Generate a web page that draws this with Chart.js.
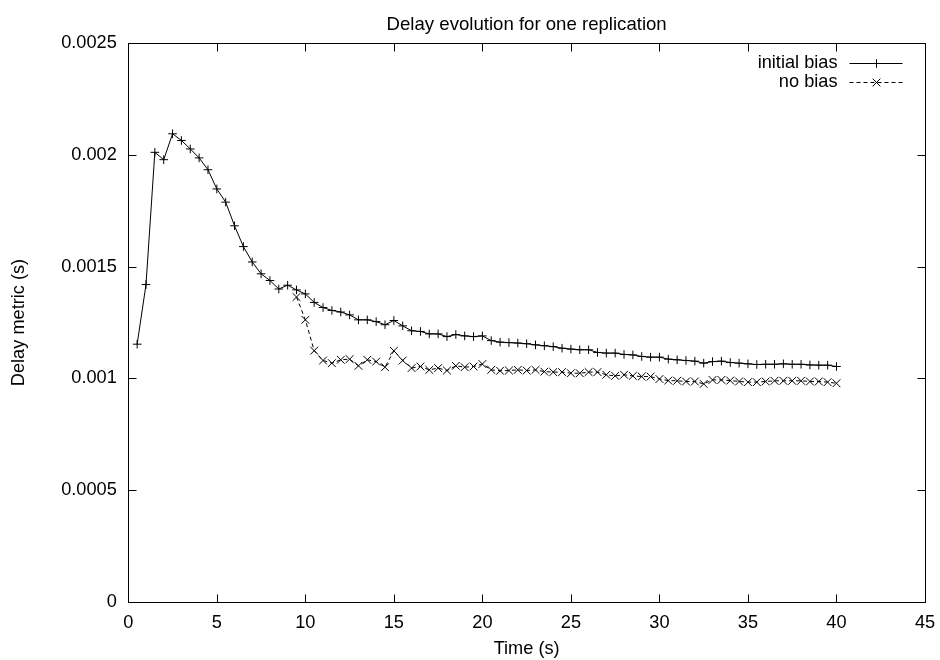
<!DOCTYPE html>
<html>

<head>
    <title>Delay evolution</title>
    <meta charset="UTF-8">
    <script src="https://cdn.jsdelivr.net/npm/chart.js@4.4.1/dist/chart.umd.min.js"></script>
    <style>
        body { margin: 0; background: #fff; }
        #wrap { width: 940px; height: 660px; }
    </style>
</head>

<body>
    <div id="wrap"><canvas id="delayChart" width="940" height="660"></canvas></div>
    <script>
        // time of each sample (s)
        const times = [
            0.5, 1, 1.5, 2, 2.5, 3, 3.5, 4, 4.5, 5, 5.5, 6, 6.5, 7, 7.5, 8, 8.5, 9, 9.5, 10,
            10.5, 11, 11.5, 12, 12.5, 13, 13.5, 14, 14.5, 15, 15.5, 16, 16.5, 17, 17.5, 18, 18.5, 19, 19.5, 20,
            20.5, 21, 21.5, 22, 22.5, 23, 23.5, 24, 24.5, 25, 25.5, 26, 26.5, 27, 27.5, 28, 28.5, 29, 29.5, 30,
            30.5, 31, 31.5, 32, 32.5, 33, 33.5, 34, 34.5, 35, 35.5, 36, 36.5, 37, 37.5, 38, 38.5, 39, 39.5, 40
        ];
        const initialBias = [
            0.001153, 0.00142, 0.002012, 0.001979, 0.002095, 0.002065, 0.002027, 0.001987, 0.001934, 0.001848,
            0.001789, 0.001683, 0.00159, 0.001521, 0.001468, 0.001438, 0.0014, 0.001417, 0.001396, 0.001378,
            0.00134, 0.001317, 0.001304, 0.001297, 0.001284, 0.001262, 0.001262, 0.001254, 0.00124, 0.001259,
            0.001235, 0.001213, 0.00121, 0.001199, 0.001199, 0.001187, 0.001196, 0.00119, 0.001187, 0.00119,
            0.001169, 0.001162, 0.00116, 0.001158, 0.001155, 0.00115, 0.001146, 0.001142, 0.001135, 0.001131,
            0.001128, 0.001128, 0.001116, 0.001113, 0.001113, 0.001107, 0.001105, 0.001098, 0.001095, 0.001095,
            0.001086, 0.001083, 0.00108, 0.001077, 0.001068, 0.001075, 0.001077, 0.001071, 0.001068, 0.001065,
            0.001062, 0.001063, 0.001063, 0.001065, 0.001063, 0.001063, 0.00106, 0.001059, 0.001059, 0.001053
        ];
        const noBias = [
            null, null, null, null, null, null, null, null, null, null,
            null, null, null, null, null, null, null, null, 0.001364, 0.001262,
            0.001124, 0.00108, 0.001068, 0.001083, 0.001086, 0.001056, 0.001083, 0.001075, 0.00105, 0.001123,
            0.00108, 0.001046, 0.001053, 0.001038, 0.001046, 0.001035, 0.001056, 0.00105, 0.001053, 0.001064,
            0.001038, 0.001034, 0.001035, 0.001038, 0.001035, 0.001038, 0.00103, 0.001028, 0.001028, 0.001023,
            0.001023, 0.001028, 0.001028, 0.001016, 0.001011, 0.001016, 0.001011, 0.001008, 0.001008, 0.000997,
            0.00099, 0.000989, 0.000986, 0.000986, 0.000975, 0.000993, 0.000993, 0.00099, 0.000986, 0.000983,
            0.000983, 0.000986, 0.000989, 0.000989, 0.000989, 0.000989, 0.000986, 0.000986, 0.000983, 0.000978
        ];
        const xTicks = [0, 5, 10, 15, 20, 25, 30, 35, 40, 45];
        const yTicks = [0, 0.0005, 0.001, 0.0015, 0.002, 0.0025];

        const fontFamily = "'Liberation Sans', Arial, sans-serif";
        const fontSize = 18.2;

        // gnuplot style box with inward ticks on all four sides, and the key inside
        const gnuplotFrame = {
            id: 'gnuplotFrame',
            afterDatasetsDraw(chart) {
                const ctx = chart.ctx;
                const a = chart.chartArea;
                const xs = chart.scales.x, ys = chart.scales.y;
                const L = Math.round(a.left) + 0.5, R = Math.round(a.right) + 0.5;
                const T = Math.round(a.top) + 0.5, B = Math.round(a.bottom) + 0.5;
                const len = 8;
                ctx.save();
                ctx.strokeStyle = '#000';
                ctx.lineWidth = 1;
                ctx.setLineDash([]);
                ctx.beginPath();
                ctx.rect(L, T, R - L, B - T);
                xTicks.forEach(function (v) {
                    const px = Math.round(xs.getPixelForValue(v)) + 0.5;
                    ctx.moveTo(px, B); ctx.lineTo(px, B - len);
                    ctx.moveTo(px, T); ctx.lineTo(px, T + len);
                });
                yTicks.forEach(function (v) {
                    const py = Math.round(ys.getPixelForValue(v)) + 0.5;
                    ctx.moveTo(L, py); ctx.lineTo(L + len, py);
                    ctx.moveTo(R, py); ctx.lineTo(R - len, py);
                });
                ctx.stroke();

                // key
                ctx.font = fontSize + 'px ' + fontFamily;
                ctx.fillStyle = '#000';
                ctx.textAlign = 'right';
                ctx.textBaseline = 'middle';
                chart.data.datasets.forEach(function (ds, i) {
                    const ky = T + 19.5 + i * 19;
                    const textX = R - 88;
                    ctx.fillText(ds.label, textX, ky);
                    ctx.beginPath();
                    ctx.setLineDash(ds.borderDash || []);
                    ctx.moveTo(R - 76, Math.round(ky) + 0.5);
                    ctx.lineTo(R - 23, Math.round(ky) + 0.5);
                    ctx.stroke();
                    ctx.setLineDash([]);
                    Chart.helpers.drawPoint(ctx, {
                        pointStyle: ds.pointStyle,
                        radius: ds.pointRadius,
                        rotation: 0,
                        borderWidth: 1
                    }, R - 49, Math.round(ky) + 0.5);
                });
                ctx.restore();
            }
        };

        const ctx = document.getElementById('delayChart');
        const delayChart = new Chart(ctx, {
            type: 'line',
            data: {
                labels: times,
                datasets: [
                    {
                        label: 'initial bias',
                        data: initialBias,
                        borderColor: '#000',
                        backgroundColor: '#000',
                        borderWidth: 1,
                        pointStyle: 'cross',
                        pointRadius: 4.3,
                        pointBorderWidth: 1,
                        pointBorderColor: '#000',
                        tension: 0,
                        fill: false
                    },
                    {
                        label: 'no bias',
                        data: noBias,
                        borderColor: '#000',
                        backgroundColor: '#000',
                        borderWidth: 1,
                        borderDash: [4, 3],
                        pointStyle: 'crossRot',
                        pointRadius: 5.5,
                        pointBorderWidth: 1,
                        pointBorderColor: '#000',
                        tension: 0,
                        spanGaps: false,
                        fill: false
                    }
                ]
            },
            options: {
                responsive: false,
                animation: false,
                layout: { padding: { left: 0, right: 15, top: 0, bottom: 0 } },
                font: { family: fontFamily, size: fontSize },
                plugins: {
                    legend: { display: false },
                    tooltip: { enabled: false },
                    title: {
                        display: true,
                        text: 'Delay evolution for one replication',
                        color: '#000',
                        fullSize: false,
                        font: { family: fontFamily, size: 18.6, weight: 'normal', lineHeight: 1.2 },
                        padding: { top: 14, bottom: 7 }
                    }
                },
                scales: {
                    x: {
                        type: 'linear',
                        min: 0,
                        max: 45,
                        afterBuildTicks: function (s) { s.ticks = xTicks.map(function (v) { return { value: v }; }); },
                        afterFit: function (s) {
                            s.height = 58.3;
                            s.paddingLeft = 0;
                            s.paddingRight = 0;
                        },
                        grid: { display: false, drawTicks: false },
                        border: { display: false },
                        ticks: { color: '#000', padding: 10, font: { family: fontFamily, size: fontSize } },
                        title: {
                            display: true,
                            text: 'Time (s)',
                            color: '#000',
                            font: { family: fontFamily, size: fontSize, lineHeight: 1.2 },
                            padding: { top: 0, bottom: 0 }
                        }
                    },
                    y: {
                        min: 0,
                        max: 0.0025,
                        afterBuildTicks: function (s) { s.ticks = yTicks.map(function (v) { return { value: v }; }); },
                        afterFit: function (s) {
                            s.width = 128.3;
                            s.paddingTop = 0;
                            s.paddingBottom = 0;
                        },
                        grid: { display: false, drawTicks: false },
                        border: { display: false },
                        ticks: {
                            color: '#000',
                            padding: 11.5,
                            font: { family: fontFamily, size: fontSize },
                            callback: function (v) { return String(parseFloat(v.toPrecision(6))); }
                        },
                        title: {
                            display: true,
                            text: 'Delay metric (s)',
                            color: '#000',
                            font: { family: fontFamily, size: fontSize, lineHeight: 1.2 },
                            padding: { top: 8, bottom: 0 }
                        }
                    }
                }
            },
            plugins: [gnuplotFrame]
        });
    </script>

</body>

</html>
